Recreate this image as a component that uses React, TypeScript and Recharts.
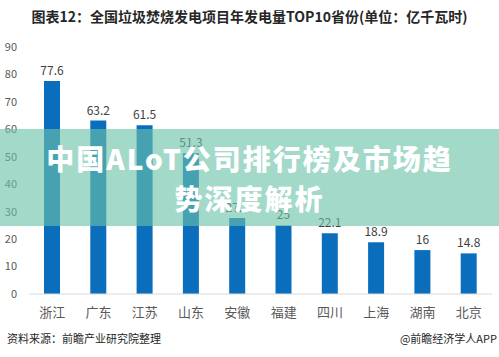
import { BarChart, Bar, XAxis, YAxis, LabelList } from 'recharts';

const provinces = ['浙江', '广东', '江苏', '山东', '安徽', '福建', '四川', '上海', '湖南', '北京'];
const output = [77.6, 63.2, 61.5, 51.3, 27.7, 25, 22.1, 18.9, 16, 14.8];
const yTicks = [0, 10, 20, 30, 40, 50, 60, 70, 80, 90];

const chartData = provinces.map((name, i) => ({ name, value: output[i] }));

const cjk = '"Noto Sans CJK SC", "Noto Sans", sans-serif';

export default function App() {
  return (
    <div
      style={{
        position: 'absolute',
        left: 0,
        top: 0,
        width: 499,
        height: 357,
        background: '#fff',
        fontFamily: cjk,
        overflow: 'hidden',
      }}
    >
      <div
        style={{
          position: 'absolute',
          left: 0,
          width: 499,
          top: 6,
          textAlign: 'center',
          fontSize: 14,
          fontWeight: 700,
          color: '#262626',
          lineHeight: '20px',
        }}
      >
        图表12：全国垃圾焚烧发电项目年发电量TOP10省份(单位：亿千瓦时)
      </div>

      <div style={{ position: 'absolute', left: 0, top: 0 }}>
        <BarChart
          width={499}
          height={357}
          data={chartData}
          margin={{ top: 47, right: 7, left: 0, bottom: 33 }}
        >
          <XAxis
            dataKey="name"
            height={30}
            tickLine={false}
            axisLine={{ stroke: '#d9d9d9' }}
            tick={{ fill: '#595959', fontSize: 13, fontFamily: cjk }}
            tickMargin={8}
            interval={0}
          />
          <YAxis
            width={29}
            domain={[0, 90]}
            ticks={yTicks}
            axisLine={false}
            tickLine={false}
            tickMargin={6}
            tick={{ fill: '#595959', fontSize: 11, fontFamily: cjk }}
          />
          <Bar dataKey="value" fill="#0b6ebd" barSize={16} isAnimationActive={false}>
            <LabelList
              dataKey="value"
              position="top"
              offset={6}
              style={{ fill: '#404040', fontSize: 12, fontFamily: cjk }}
            />
          </Bar>
        </BarChart>
      </div>

      <div
        style={{
          position: 'absolute',
          left: 0,
          top: 129,
          width: 499,
          height: 97,
          background: 'rgba(106,193,168,0.62)',
        }}
      />
      <div
        style={{
          position: 'absolute',
          left: 0,
          top: 138,
          width: 499,
          textAlign: 'center',
          color: '#fff',
          fontSize: 28,
          fontWeight: 900,
          lineHeight: '40px',
          letterSpacing: 2,
        }}
      >
        中国ALoT公司排行榜及市场趋
        <br />
        势深度解析
      </div>

      <div
        style={{
          position: 'absolute',
          left: 7,
          top: 330,
          fontSize: 11,
          color: '#262626',
          lineHeight: '16px',
        }}
      >
        资料来源：前瞻产业研究院整理
      </div>
      <div
        style={{
          position: 'absolute',
          right: 2,
          top: 330,
          fontSize: 11,
          color: '#262626',
          lineHeight: '16px',
        }}
      >
        @前瞻经济学人APP
      </div>
    </div>
  );
}
